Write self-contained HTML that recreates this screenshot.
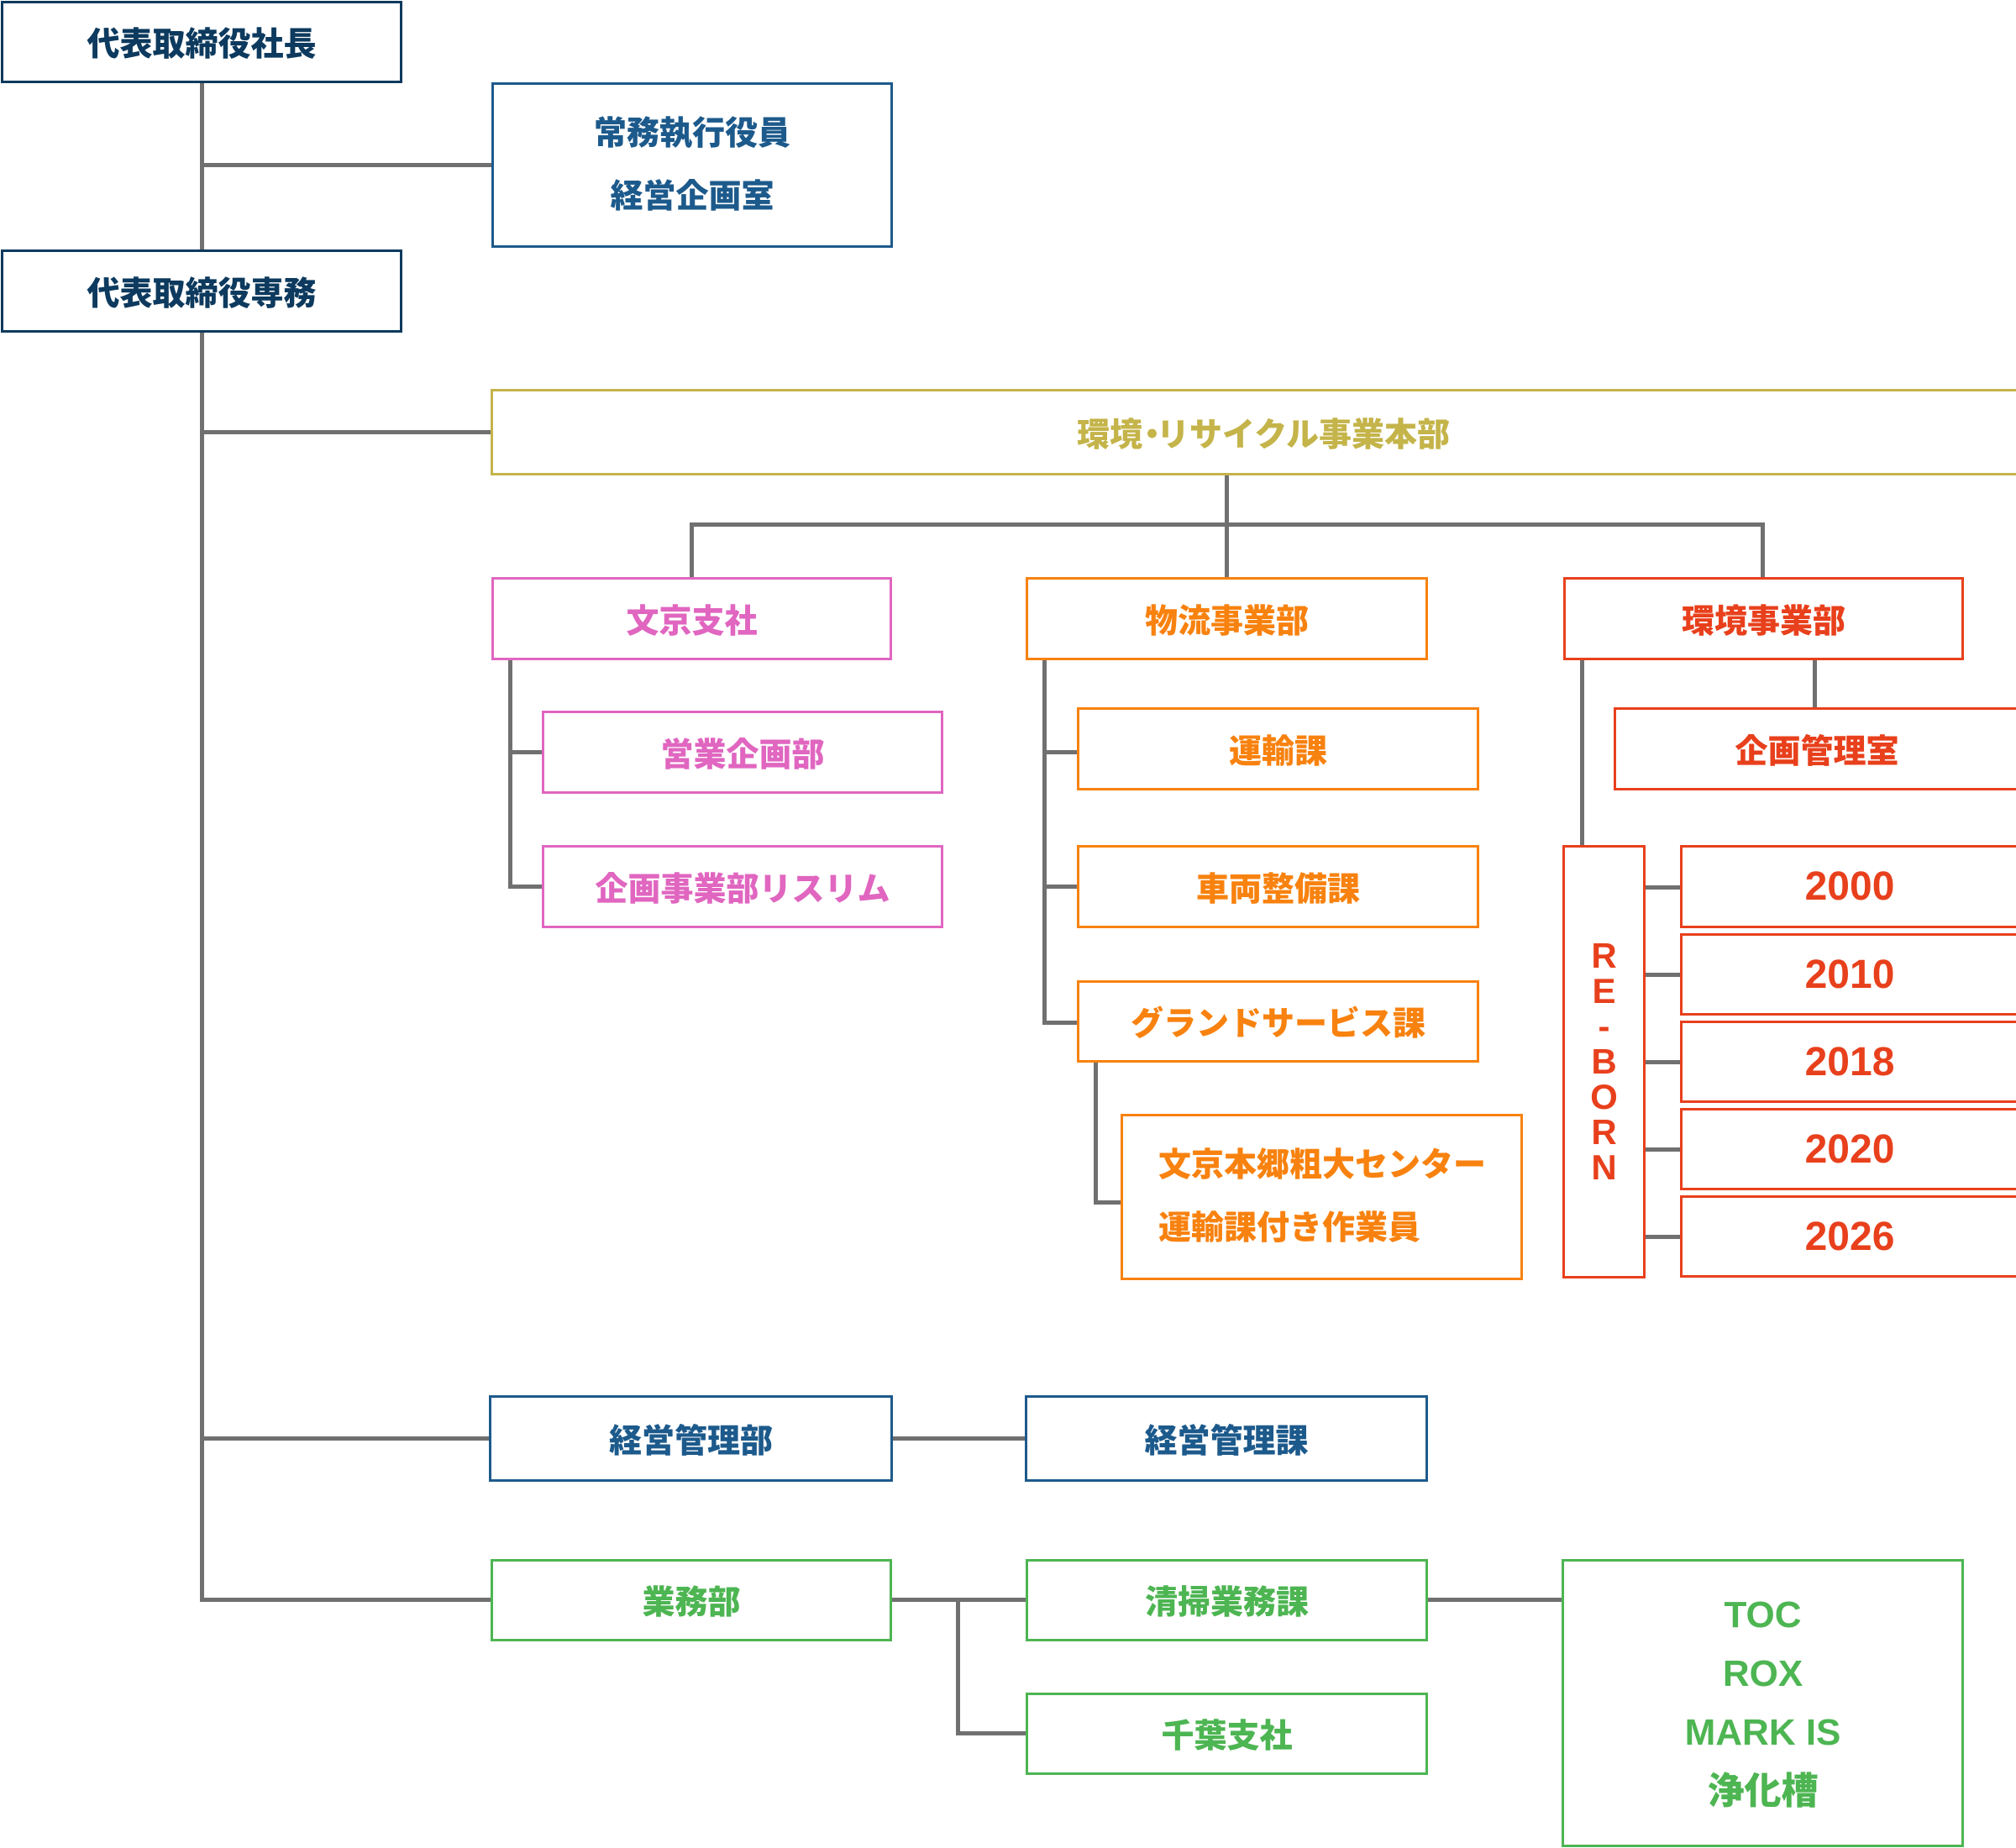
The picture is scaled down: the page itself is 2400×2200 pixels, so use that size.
<!DOCTYPE html>
<html><head><meta charset="utf-8"><style>
body{margin:0;width:2400px;height:2200px;background:#fff;position:relative;overflow:hidden;font-family:"Liberation Sans","Noto Sans CJK JP",sans-serif;font-weight:bold}
.b{position:absolute;box-sizing:border-box;border:3px solid;display:flex;align-items:center;justify-content:center;background:#fff;font-size:39px;text-align:center;font-weight:900}
.l{position:absolute;background:#707070}
.nv{border-color:#0d3a5e;color:#0d3a5e}
.bl{border-color:#1d5a8c;color:#1d5a8c}
.ol{border-color:#c4b44a;color:#c4b44a}
.pk{border-color:#e066c0;color:#e066c0}
.or{border-color:#f8820f;color:#f8820f}
.rd{border-color:#e8401c;color:#e8401c}
.gr{border-color:#4db552;color:#4db552}
.y{font-size:48px}
</style></head><body>
<div class="l" style="left:238px;top:98px;width:5px;height:200px"></div>
<div class="l" style="left:238px;top:395px;width:5px;height:1512px"></div>
<div class="l" style="left:238px;top:194px;width:348px;height:5px"></div>
<div class="l" style="left:238px;top:512px;width:348px;height:5px"></div>
<div class="l" style="left:238px;top:1710px;width:346px;height:5px"></div>
<div class="l" style="left:238px;top:1902px;width:348px;height:5px"></div>
<div class="l" style="left:1458px;top:565px;width:5px;height:122px"></div>
<div class="l" style="left:821px;top:622px;width:1280px;height:5px"></div>
<div class="l" style="left:821px;top:622px;width:5px;height:65px"></div>
<div class="l" style="left:2096px;top:622px;width:5px;height:65px"></div>
<div class="l" style="left:605px;top:785px;width:5px;height:272px"></div>
<div class="l" style="left:605px;top:893px;width:42px;height:5px"></div>
<div class="l" style="left:605px;top:1053px;width:42px;height:5px"></div>
<div class="l" style="left:1241px;top:785px;width:5px;height:434px"></div>
<div class="l" style="left:1241px;top:893px;width:42px;height:5px"></div>
<div class="l" style="left:1241px;top:1053px;width:42px;height:5px"></div>
<div class="l" style="left:1241px;top:1215px;width:42px;height:5px"></div>
<div class="l" style="left:1302px;top:1264px;width:5px;height:169px"></div>
<div class="l" style="left:1302px;top:1429px;width:34px;height:5px"></div>
<div class="l" style="left:2158px;top:785px;width:5px;height:58px"></div>
<div class="l" style="left:1881px;top:785px;width:5px;height:223px"></div>
<div class="l" style="left:1958px;top:1054px;width:44px;height:5px"></div>
<div class="l" style="left:1958px;top:1158px;width:44px;height:5px"></div>
<div class="l" style="left:1958px;top:1262px;width:44px;height:5px"></div>
<div class="l" style="left:1958px;top:1366px;width:44px;height:5px"></div>
<div class="l" style="left:1958px;top:1470px;width:44px;height:5px"></div>
<div class="l" style="left:1062px;top:1710px;width:160px;height:5px"></div>
<div class="l" style="left:1061px;top:1902px;width:160px;height:5px"></div>
<div class="l" style="left:1138px;top:1902px;width:5px;height:163px"></div>
<div class="l" style="left:1138px;top:2061px;width:84px;height:5px"></div>
<div class="l" style="left:1699px;top:1902px;width:162px;height:5px"></div>
<div class="b nv" style="left:1px;top:1px;width:478px;height:98px">代表取締役社長</div>
<div class="b bl" style="left:585px;top:98px;width:478px;height:197px;flex-direction:column;line-height:75px">常務執行役員<br>経営企画室</div>
<div class="b nv" style="left:1px;top:297px;width:478px;height:99px">代表取締役専務</div>
<div class="b ol" style="left:584px;top:463px;width:1820px;height:103px;padding-left:20px">環境<span style="letter-spacing:-14px;margin-left:-8px">・</span>リサイクル事業本部</div>
<div class="b pk" style="left:585px;top:687px;width:477px;height:99px">文京支社</div>
<div class="b or" style="left:1221px;top:687px;width:479px;height:99px">物流事業部</div>
<div class="b rd" style="left:1861px;top:687px;width:477px;height:99px">環境事業部</div>
<div class="b pk" style="left:645px;top:846px;width:478px;height:99px">営業企画部</div>
<div class="b pk" style="left:645px;top:1006px;width:478px;height:99px">企画事業部リスリム</div>
<div class="b or" style="left:1282px;top:842px;width:479px;height:99px">運輸課</div>
<div class="b or" style="left:1282px;top:1006px;width:479px;height:99px">車両整備課</div>
<div class="b or" style="left:1282px;top:1167px;width:479px;height:98px">グランドサービス課</div>
<div class="b or" style="left:1334px;top:1326px;width:479px;height:198px;justify-content:flex-start;padding-left:42px;text-align:left;line-height:75px">文京本郷粗大センター<br>運輸課付き作業員</div>
<div class="b rd" style="left:1921px;top:842px;width:484px;height:99px">企画管理室</div>
<div class="b rd" style="left:1860px;top:1006px;width:99px;height:516px;font-size:42px;line-height:42px">R<br>E<br>-<br>B<br>O<br>R<br>N</div>
<div class="b rd y" style="left:2000px;top:1006px;width:404px;height:99px">2000</div>
<div class="b rd y" style="left:2000px;top:1111px;width:404px;height:98px">2010</div>
<div class="b rd y" style="left:2000px;top:1215px;width:404px;height:98px">2018</div>
<div class="b rd y" style="left:2000px;top:1319px;width:404px;height:98px">2020</div>
<div class="b rd y" style="left:2000px;top:1423px;width:404px;height:98px">2026</div>
<div class="b bl" style="left:582px;top:1661px;width:481px;height:103px">経営管理部</div>
<div class="b bl" style="left:1220px;top:1661px;width:480px;height:103px">経営管理課</div>
<div class="b gr" style="left:584px;top:1856px;width:478px;height:98px">業務部</div>
<div class="b gr" style="left:1221px;top:1856px;width:479px;height:98px">清掃業務課</div>
<div class="b gr" style="left:1221px;top:2015px;width:479px;height:98px">千葉支社</div>
<div class="b gr" style="left:1859px;top:1856px;width:479px;height:343px;line-height:70px;font-size:44px">TOC<br>ROX<br>MARK IS<br>浄化槽</div>
</body></html>
